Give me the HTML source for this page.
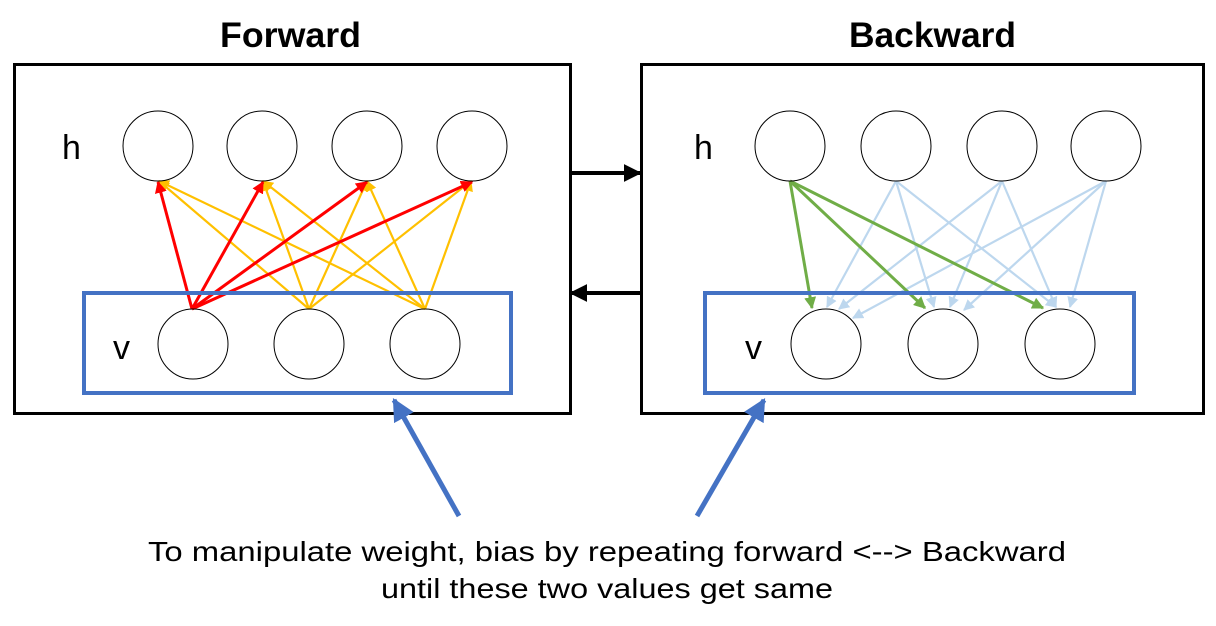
<!DOCTYPE html>
<html><head><meta charset="utf-8"><style>
html,body{margin:0;padding:0;background:#fff;}
svg{display:block;}
</style></head><body>
<svg width="1216" height="626" viewBox="0 0 1216 626" xmlns="http://www.w3.org/2000/svg">
<defs>
<marker id="ar" viewBox="0 0 10 10" refX="9" refY="5" markerWidth="4" markerHeight="4" orient="auto" markerUnits="strokeWidth"><path d="M0,0 L10,5 L0,10 z" fill="#ff0000"/></marker>
<marker id="ay" viewBox="0 0 10 10" refX="9" refY="5" markerWidth="5" markerHeight="5" orient="auto" markerUnits="strokeWidth"><path d="M0,0 L10,5 L0,10 z" fill="#ffc000"/></marker>
<marker id="ag" viewBox="0 0 10 10" refX="9" refY="5" markerWidth="4" markerHeight="4" orient="auto" markerUnits="strokeWidth"><path d="M0,0 L10,5 L0,10 z" fill="#70ad47"/></marker>
<marker id="al" viewBox="0 0 10 10" refX="9" refY="5" markerWidth="5" markerHeight="5" orient="auto" markerUnits="strokeWidth"><path d="M0,0 L10,5 L0,10 z" fill="#bdd7ee"/></marker>
<marker id="ak" viewBox="0 0 10 10" refX="9" refY="5" markerWidth="4.5" markerHeight="4.5" orient="auto" markerUnits="strokeWidth"><path d="M0,0 L10,5 L0,10 z" fill="#000"/></marker>
<marker id="ab" viewBox="0 0 10 10" refX="9" refY="5" markerWidth="4.5" markerHeight="4.5" orient="auto" markerUnits="strokeWidth"><path d="M0,0 L10,5 L0,10 z" fill="#4472c4"/></marker>
</defs>
<g font-family="'Liberation Sans', sans-serif">
<text x="220" y="47" font-size="35" font-weight="bold" textLength="141" lengthAdjust="spacingAndGlyphs">Forward</text>
<text x="849" y="47" font-size="35" font-weight="bold" textLength="167" lengthAdjust="spacingAndGlyphs">Backward</text>

<rect x="14.5" y="64.5" width="556" height="349" fill="none" stroke="#000" stroke-width="3"/>
<rect x="641.5" y="64.5" width="562" height="349" fill="none" stroke="#000" stroke-width="3"/>

<g stroke="#ffc000" stroke-width="2.2" fill="none">
<line x1="309" y1="309" x2="159" y2="181" marker-end="url(#ay)"/>
<line x1="309" y1="309" x2="263" y2="181" marker-end="url(#ay)"/>
<line x1="309" y1="309" x2="367" y2="181" marker-end="url(#ay)"/>
<line x1="309" y1="309" x2="471" y2="181" marker-end="url(#ay)"/>
<line x1="425" y1="309" x2="159" y2="181" marker-end="url(#ay)"/>
<line x1="425" y1="309" x2="263" y2="181" marker-end="url(#ay)"/>
<line x1="425" y1="309" x2="367" y2="181" marker-end="url(#ay)"/>
<line x1="425" y1="309" x2="471" y2="181" marker-end="url(#ay)"/>
</g>
<g stroke="#ff0000" stroke-width="3" fill="none">
<line x1="192" y1="309" x2="158" y2="182" marker-end="url(#ar)"/>
<line x1="192" y1="309" x2="263" y2="182" marker-end="url(#ar)"/>
<line x1="192" y1="309" x2="367" y2="182" marker-end="url(#ar)"/>
<line x1="192" y1="309" x2="472" y2="182" marker-end="url(#ar)"/>
</g>

<g stroke="#bdd7ee" stroke-width="2.2" fill="none">
<line x1="896" y1="181" x2="827" y2="307" marker-end="url(#al)"/>
<line x1="896" y1="181" x2="934" y2="307" marker-end="url(#al)"/>
<line x1="896" y1="181" x2="1056" y2="307" marker-end="url(#al)"/>
<line x1="1002" y1="181" x2="839" y2="309" marker-end="url(#al)"/>
<line x1="1002" y1="181" x2="950" y2="307" marker-end="url(#al)"/>
<line x1="1002" y1="181" x2="1056" y2="307" marker-end="url(#al)"/>
<line x1="1106" y1="181" x2="853" y2="318" marker-end="url(#al)"/>
<line x1="1106" y1="181" x2="964" y2="310" marker-end="url(#al)"/>
<line x1="1106" y1="181" x2="1070" y2="307" marker-end="url(#al)"/>
</g>
<g stroke="#70ad47" stroke-width="3" fill="none">
<line x1="790" y1="181" x2="812" y2="308" marker-end="url(#ag)"/>
<line x1="790" y1="181" x2="925" y2="308" marker-end="url(#ag)"/>
<line x1="790" y1="181" x2="1043" y2="308" marker-end="url(#ag)"/>
</g>

<g fill="none" stroke="#000" stroke-width="1">
<circle cx="158" cy="146" r="35"/><circle cx="262" cy="146" r="35"/><circle cx="367" cy="146" r="35"/><circle cx="472" cy="146" r="35"/>
<circle cx="193" cy="344" r="35"/><circle cx="309" cy="344" r="35"/><circle cx="425" cy="344" r="35"/>
<circle cx="790" cy="146" r="35"/><circle cx="896" cy="146" r="35"/><circle cx="1002" cy="146" r="35"/><circle cx="1106" cy="146" r="35"/>
<circle cx="826" cy="344" r="35"/><circle cx="943" cy="344" r="35"/><circle cx="1060" cy="344" r="35"/>
</g>

<rect x="84" y="293" width="427" height="100" fill="none" stroke="#4472c4" stroke-width="4"/>
<rect x="705" y="293" width="429" height="100" fill="none" stroke="#4472c4" stroke-width="4"/>

<text x="62" y="159" font-size="34">h</text>
<text x="113" y="359" font-size="34">v</text>
<text x="694" y="159" font-size="34">h</text>
<text x="745" y="359" font-size="34">v</text>

<line x1="571" y1="173" x2="640" y2="173" stroke="#000" stroke-width="4" marker-end="url(#ak)"/>
<line x1="640" y1="293" x2="571" y2="293" stroke="#000" stroke-width="4" marker-end="url(#ak)"/>

<line x1="459" y1="516" x2="394" y2="400" stroke="#4472c4" stroke-width="5" marker-end="url(#ab)"/>
<line x1="697" y1="516" x2="764" y2="400" stroke="#4472c4" stroke-width="5" marker-end="url(#ab)"/>

<text x="148" y="561" font-size="28" textLength="918" lengthAdjust="spacingAndGlyphs">To manipulate weight, bias by repeating forward &lt;--&gt; Backward</text>
<text x="381" y="598" font-size="28" textLength="452" lengthAdjust="spacingAndGlyphs">until these two values get same</text>
</g>
</svg>
</body></html>
